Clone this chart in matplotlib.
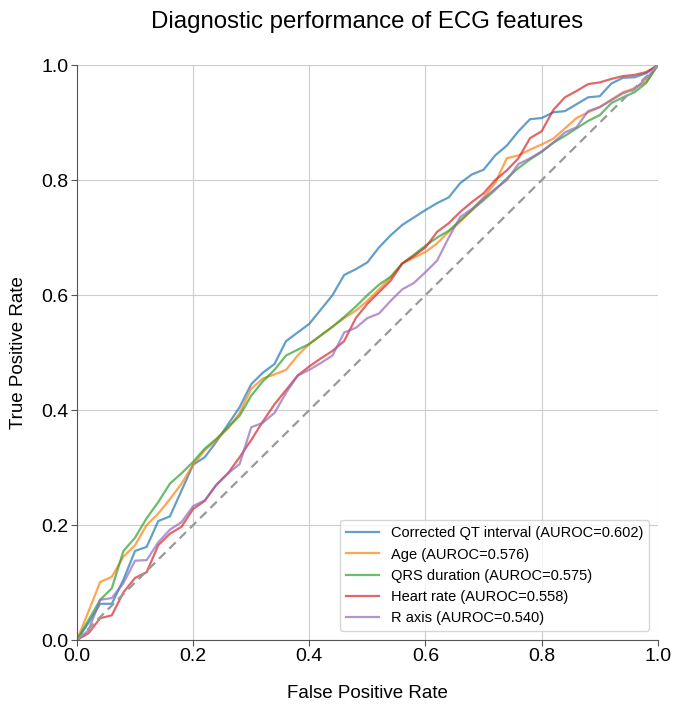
import numpy as np
import matplotlib
matplotlib.use("Agg")
import matplotlib.pyplot as plt

plt.rcParams['font.family'] = ['Liberation Sans', 'DejaVu Sans']

# False positive rate grid shared by all curves
fpr = np.linspace(0, 1, 51)

# True positive rates
tpr_qt = [0, .03, .063, .063, .105, .155, .162, .207, .215, .26, .305, .318, .345, .375, .405,
          .445, .465, .48, .52, .535, .55, .575, .6, .635, .645, .657, .683, .704, .722, .735,
          .748, .76, .77, .795, .81, .818, .843, .86, .885, .906, .908, .918, .92, .932, .944,
          .946, .968, .978, .979, .986, 1.0]
tpr_age = [0, .05, .101, .11, .145, .165, .2, .22, .245, .272, .305, .33, .348, .368, .395,
           .437, .455, .462, .47, .495, .515, .53, .545, .56, .573, .59, .61, .63, .655, .665,
           .675, .69, .71, .728, .748, .77, .795, .838, .843, .853, .862, .872, .89, .908, .918,
           .927, .94, .953, .96, .971, 1.0]
tpr_qrs = [0, .035, .07, .09, .155, .178, .212, .24, .272, .29, .31, .333, .35, .37, .39,
           .425, .45, .47, .495, .505, .515, .53, .545, .562, .58, .6, .618, .632, .655, .67,
           .686, .7, .712, .73, .748, .765, .783, .803, .821, .836, .849, .865, .877, .89, .903,
           .913, .934, .944, .953, .969, 1.0]
tpr_hr = [0, .012, .038, .043, .083, .108, .118, .165, .185, .197, .228, .242, .27, .29, .318,
          .348, .38, .41, .435, .46, .476, .49, .503, .52, .56, .585, .605, .625, .655, .668,
          .683, .71, .725, .745, .762, .777, .8, .817, .838, .873, .885, .922, .944, .955, .967,
          .97, .976, .981, .983, .988, 1.0]
tpr_raxis = [0, .017, .07, .073, .099, .138, .139, .17, .192, .205, .233, .243, .27, .29, .306,
             .37, .378, .395, .43, .46, .47, .482, .495, .535, .543, .56, .568, .59, .61, .621,
             .64, .66, .70, .736, .75, .768, .785, .8, .828, .838, .85, .865, .883, .892, .92,
             .927, .939, .951, .958, .977, 1.0]

labels = ['Corrected QT interval', 'Age', 'QRS duration', 'Heart rate', 'R axis']
aurocs = [0.602, 0.576, 0.575, 0.558, 0.540]
curves = [tpr_qt, tpr_age, tpr_qrs, tpr_hr, tpr_raxis]
colors = ['tab:blue', 'tab:orange', 'tab:green', 'tab:red', 'tab:purple']

fig = plt.figure(figsize=(6.81, 7.08), dpi=100)
ax = fig.add_axes([0.113, 0.096, 0.853, 0.812])

for tpr, lab, auc, c in zip(curves, labels, aurocs, colors):
    ax.plot(fpr, tpr, color=c, lw=1.6, alpha=0.7, label=f'{lab} (AUROC={auc:.3f})')

# Chance line
ax.plot([0, 1], [0, 1], color='#999999', lw=1.6, linestyle=(0, (4, 2.5)))

ax.set_xlim(0, 1)
ax.set_ylim(0, 1)
ax.set_xticks(np.arange(0, 1.01, 0.2))
ax.set_yticks(np.arange(0, 1.01, 0.2))
ax.grid(True, color='#cccccc', lw=0.8)
ax.set_axisbelow(True)
for s in ['top', 'right']:
    ax.spines[s].set_visible(False)
for s in ['left', 'bottom']:
    ax.spines[s].set_color('#555555')
    ax.spines[s].set_linewidth(0.8)
ax.tick_params(labelsize=14, length=4, color='#555555', pad=2)

ax.set_xlabel('False Positive Rate', fontsize=13.5, labelpad=14)
ax.set_ylabel('True Positive Rate', fontsize=13.5, labelpad=10)
ax.set_title('Diagnostic performance of ECG features', fontsize=17.3, pad=27)

ax.legend(loc='lower right', fontsize=10.5, frameon=True, edgecolor='#cccccc',
          borderaxespad=0.6, handlelength=2.3)

fig.savefig('out.png', dpi=100)
